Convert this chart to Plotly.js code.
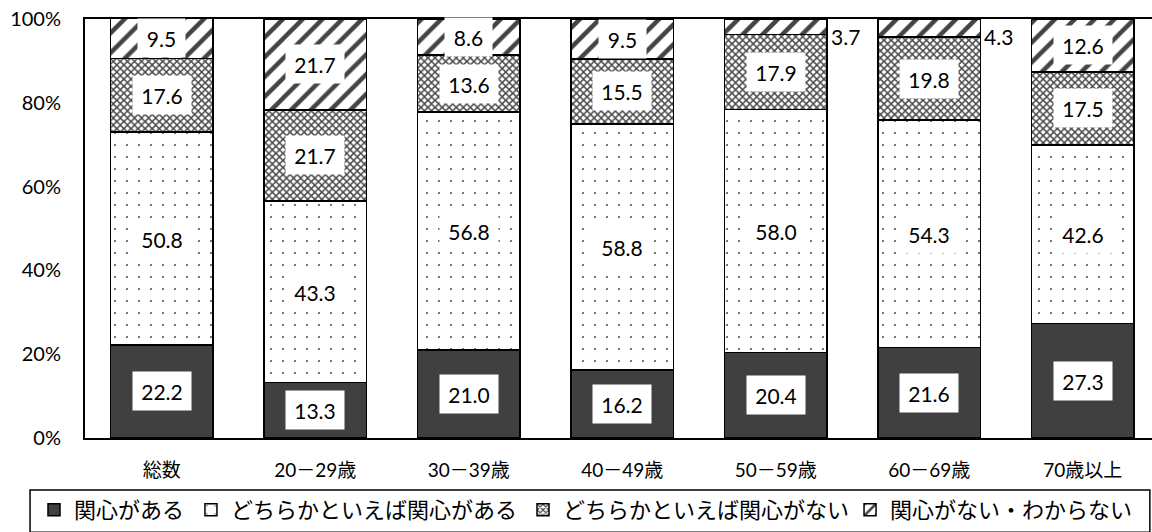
<!DOCTYPE html>
<html><head><meta charset="utf-8">
<script src="https://cdn.plot.ly/plotly-3.0.1.min.js"></script>
<style>html,body{margin:0;padding:0;background:#fff;}#c{width:1152px;height:532px;}</style>
</head><body><div id="c"></div>
<script>
var categories = ["総数","20－29歳","30－39歳","40－49歳","50－59歳","60－69歳","70歳以上"];
var seriesNames = ["関心がある","どちらかといえば関心がある","どちらかといえば関心がない","関心がない・わからない"];
var s1 = [22.2,13.3,21.0,16.2,20.4,21.6,27.3];
var s2 = [50.8,43.3,56.8,58.8,58.0,54.3,42.6];
var s3 = [17.6,21.7,13.6,15.5,17.9,19.8,17.5];
var s4 = [9.5,21.7,8.6,9.5,3.7,4.3,12.6];
var yTicks = [0,20,40,60,80,100];
var yTickText = ["0%","20%","40%","60%","80%","100%"];

var FONT = "Lato, 'Noto Sans CJK JP', sans-serif";
var series = [s1,s2,s3,s4];
var styles = [
  {color:"#404040", pattern:{shape:""}},
  {color:"#ffffff", pattern:{shape:".", fgcolor:"#555555", bgcolor:"#ffffff", size:12, solidity:0.025}},
  {color:"#ffffff", pattern:{shape:"x", fgcolor:"#4a4a4a", bgcolor:"#ffffff", size:5, solidity:0.5}},
  {color:"#ffffff", pattern:{shape:"/", fgcolor:"#444444", bgcolor:"#ffffff", size:14, solidity:0.32}}
];
var legendIds = ["legend","legend2","legend3","legend4"];
var legendX = [-0.0478, 0.0993, 0.4105, 0.7170];
var xIdx = categories.map(function(c,i){return i;});
var traces = series.map(function(s,k){
  return {
    type:"bar", x:xIdx, y:s, name:seriesNames[k], legend:legendIds[k],
    marker:{color:styles[k].color, pattern:styles[k].pattern, line:{color:"#000", width:1.5}},
    hoverinfo:"skip"
  };
});

var annotations = [];
for (var i=0;i<categories.length;i++){
  var base = 0;
  for (var k=0;k<series.length;k++){
    var v = series[k][i];
    var mid = base + v/2;
    var txt = v.toFixed(1);
    if (v < 5){
      annotations.push({x:i, y:99.5, xref:"x", yref:"y", text:txt, showarrow:false,
        xanchor:"left", yanchor:"top", xshift:53, yshift:-1, font:{family:FONT,size:21,color:"#000"}});
    } else {
      annotations.push({x:i, y:mid, xref:"x", yref:"y", text:txt, showarrow:false,
        bgcolor:"#ffffff", borderpad:6, width:txt.length*11+2, height:26,
        font:{family:FONT,size:21,color:"#000"}});
    }
    base += v;
  }
}

var layout = {
  width:1152, height:532,
  margin:{l:85, r:0, t:19, b:94},
  barmode:"stack", bargap:0.33,
  paper_bgcolor:"#fff", plot_bgcolor:"#fff",
  font:{family:FONT, size:19, color:"#000"},
  xaxis:{range:[-0.5, 6.451], tickvals:xIdx, ticktext:categories, showline:true, mirror:true,
    linecolor:"#000", linewidth:2, ticks:"", showgrid:false, zeroline:false,
    tickfont:{family:FONT,size:19,color:"#000"}, ticklabelstandoff:14, fixedrange:true},
  yaxis:{range:[0,100], tickvals:yTicks, ticktext:yTickText, showline:true, linecolor:"#000",
    linewidth:2, ticks:"", showgrid:false, zeroline:false, ticklabelstandoff:18,
    tickfont:{family:FONT,size:20,color:"#000"}, fixedrange:true},
  showlegend:true,
  shapes:[{type:"rect", xref:"paper", yref:"paper", x0:-0.0515, x1:0.998, y0:-0.124, y1:-0.225,
    line:{color:"#000", width:1.5}, fillcolor:"rgba(0,0,0,0)"}],
  annotations:annotations
};
legendIds.forEach(function(id,k){
  layout[id] = {orientation:"h", x:legendX[k], xanchor:"left", y:-0.172, yanchor:"middle",
    font:{family:FONT,size:22,color:"#000"}, bgcolor:"rgba(0,0,0,0)", itemwidth:30};
});
Plotly.newPlot("c", traces, layout, {displayModeBar:false, staticPlot:true});
</script></body></html>
